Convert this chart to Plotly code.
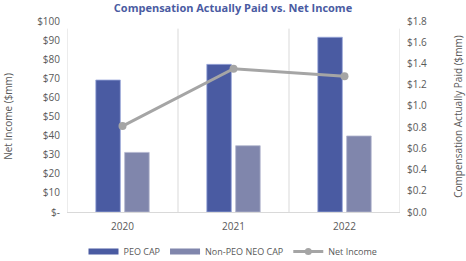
import plotly.graph_objects as go

years = ["2020", "2021", "2022"]
peo_cap = [69.1, 77.3, 91.5]
non_peo_cap = [31.2, 34.7, 39.8]
net_income = [0.81, 1.35, 1.28]

left_vals = [0, 10, 20, 30, 40, 50, 60, 70, 80, 90, 100]
left_text = ["$-", "$10", "$20", "$30", "$40", "$50", "$60", "$70", "$80", "$90", "$100"]
right_vals = [0, 0.2, 0.4, 0.6, 0.8, 1.0, 1.2, 1.4, 1.6, 1.8]
right_text = ["$0.0", "$0.2", "$0.4", "$0.6", "$0.8", "$1.0", "$1.2", "$1.4", "$1.6", "$1.8"]

FONT = "Open Sans"
GRAY = "#595959"
PEO_COLOR = "#4A5BA2"
NON_COLOR = "#8086AC"
LINE_COLOR = "#A5A5A5"

fig = go.Figure()
fig.add_trace(go.Bar(x=years, y=peo_cap, name="PEO CAP", marker_color=PEO_COLOR,
                     marker_line=dict(color="#9AA8DA", width=0.8), showlegend=False))
fig.add_trace(go.Bar(x=years, y=non_peo_cap, name="Non-PEO NEO CAP", marker_color=NON_COLOR,
                     marker_line=dict(color="#B3B6CF", width=0.8), showlegend=False))
fig.add_trace(go.Scatter(x=years, y=net_income, name="Net Income", yaxis="y2",
                         mode="lines+markers", line=dict(color=LINE_COLOR, width=3),
                         marker=dict(size=8, color=LINE_COLOR), showlegend=False))

# legend-only entries (wide flat swatches like the reference)
fig.add_trace(go.Scatter(x=[None], y=[None], name="PEO CAP", mode="lines",
                         line=dict(color=PEO_COLOR, width=6)))
fig.add_trace(go.Scatter(x=[None], y=[None], name="Non-PEO NEO CAP", mode="lines",
                         line=dict(color=NON_COLOR, width=6)))
fig.add_trace(go.Scatter(x=[None], y=[None], name="Net Income", mode="lines+markers",
                         line=dict(color=LINE_COLOR, width=3),
                         marker=dict(size=7, color=LINE_COLOR)))

for xb in [-0.5, 0.5, 1.5, 2.5]:
    fig.add_shape(type="line", xref="x", yref="y", x0=xb, x1=xb, y0=0, y1=96,
                  line=dict(color="#D9D9D9", width=1), layer="below")

fig.update_layout(
    width=466, height=261,
    margin=dict(l=67, r=66, t=21, b=49, autoexpand=False),
    paper_bgcolor="white", plot_bgcolor="white",
    font=dict(family=FONT, size=10, color=GRAY),
    title=dict(text="<b>Compensation Actually Paid vs. Net Income</b>",
               x=0.5, xanchor="center", yref="container", y=1 - 8 / 261, yanchor="middle",
               font=dict(family=FONT, size=11, color=PEO_COLOR)),
    barmode="group", bargap=0.48, bargroupgap=0.15,
    xaxis=dict(type="category", range=[-0.5, 2.5], showgrid=False,
               showline=True, linecolor="#D9D9D9", linewidth=1, ticks="",
               ticklabelstandoff=5, tickfont=dict(size=10, color=GRAY)),
    yaxis=dict(range=[0, 100], tickvals=left_vals, ticktext=left_text,
               showgrid=False, zeroline=False, showline=False, ticks="",
               ticklabelstandoff=6, tickfont=dict(size=10, color=GRAY),
               title=dict(text="Net Income ($mm)", font=dict(size=10, color=GRAY), standoff=22)),
    yaxis2=dict(range=[0, 1.8], tickvals=right_vals, ticktext=right_text,
                overlaying="y", side="right", showgrid=False, zeroline=False,
                showline=False, ticks="", ticklabelstandoff=6,
                tickfont=dict(size=10, color=GRAY),
                title=dict(text="Compensation Actually Paid ($mm)",
                           font=dict(size=10, color=GRAY), standoff=28)),
    legend=dict(orientation="h", x=0.5, xanchor="center", xref="container",
                y=24 / 261, yanchor="top", yref="container",
                font=dict(size=9, color=GRAY), traceorder="normal",
                itemwidth=30, tracegroupgap=0),
    showlegend=True,
)

fig.write_html("out.html")
